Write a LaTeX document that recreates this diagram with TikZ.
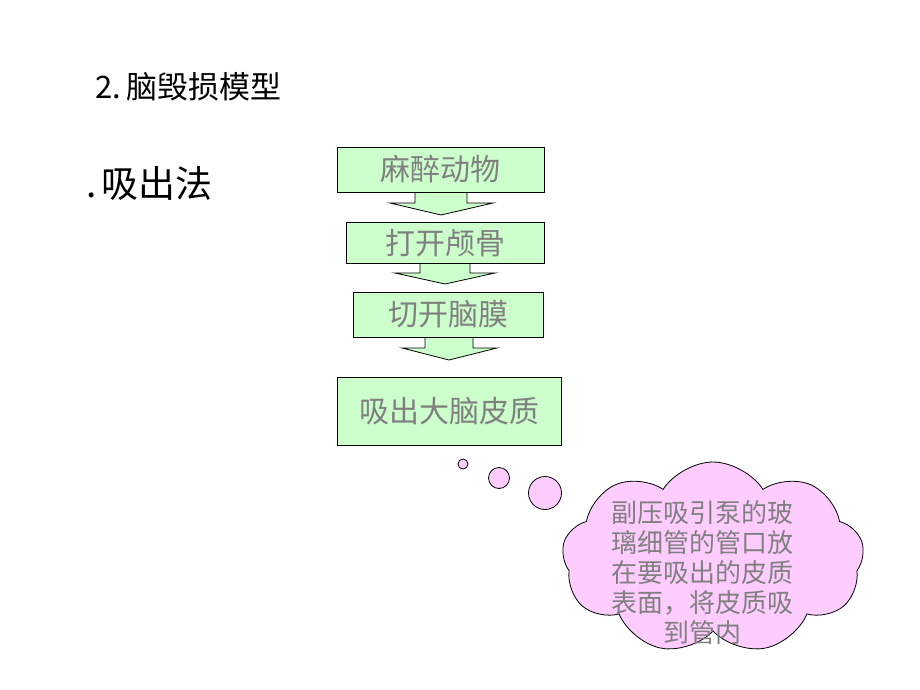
\documentclass[tikz,border=0pt]{standalone}
\usepackage{fontspec}
\setmainfont{Noto Sans CJK SC}
\newfontfamily\cjk{Noto Sans CJK SC}
\usetikzlibrary{shapes.symbols}
\definecolor{boxgreen}{HTML}{CCFFCC}
\definecolor{cloudpink}{HTML}{FFCCFF}
\definecolor{txtgray}{HTML}{808080}
\tikzset{
  stepbox/.style={draw=black, line width=0.8pt, fill=boxgreen, text=txtgray, inner sep=0pt, font=\cjk\fontsize{30}{34}\selectfont},
  blockarrow/.style={draw=black, line width=0.8pt, fill=boxgreen, line join=miter},
  bubble/.style={circle, draw=black, line width=0.8pt, fill=cloudpink, inner sep=0pt},
  cloudshape/.style={cloud, cloud puffs=9, cloud puff arc=115, aspect=1.6, draw=black, line width=0.8pt, fill=cloudpink, minimum width=302pt, minimum height=192pt, inner sep=0pt},
  cloudtext/.style={text=txtgray, align=center, font=\cjk\fontsize{26}{30}\selectfont, inner sep=0pt}
}
\begin{document}
\begin{tikzpicture}[x=1pt,y=-1pt]
\useasboundingbox (0,0) rectangle (920,690);
% titles
\node[anchor=west, inner sep=0pt, font=\cjk\fontsize{31}{34}\selectfont] (title) at (95,87) {2.\,脑毁损模型};
\node[anchor=west, inner sep=0pt, font=\cjk\fontsize{37}{40}\selectfont] (method) at (86,183) {.\kern5pt 吸出法};
% block arrows (drawn first, behind boxes)
\draw[blockarrow] (415,192) -- (415,203) -- (390,203) -- (441,215) -- (493,203) -- (467,203) -- (467,192);
\draw[blockarrow] (420,263) -- (420,273) -- (395,273) -- (445,284) -- (495,273) -- (470,273) -- (470,263);
\draw[blockarrow] (425,337) -- (425,348) -- (402,348) -- (449,360) -- (497,348) -- (473,348) -- (473,337);
% boxes
\node[stepbox, minimum width=207pt, minimum height=45pt] (b1) at (440.5,169.5) {麻醉动物};
\node[stepbox, minimum width=198pt, minimum height=41pt] (b2) at (445,243) {打开颅骨};
\node[stepbox, minimum width=190pt, minimum height=45pt] (b3) at (448,314.5) {切开脑膜};
\node[stepbox, minimum width=224pt, minimum height=68pt, font=\cjk\fontsize{30}{34}\selectfont] (b4) at (449,411) {吸出大脑皮质};
% thought bubbles
\node[bubble, minimum size=10pt] (p1) at (463,464) {};
\node[bubble, minimum size=21pt] (p2) at (499,478) {};
\node[bubble, minimum size=33pt] (p3) at (545,493) {};
% cloud
\node[cloudshape] (cl) at (713,558) {};
\node[cloudtext] (ct) at (702,573) {副压吸引泵的玻\\璃细管的管口放\\在要吸出的皮质\\表面，将皮质吸\\到管内};
\end{tikzpicture}
\end{document}
